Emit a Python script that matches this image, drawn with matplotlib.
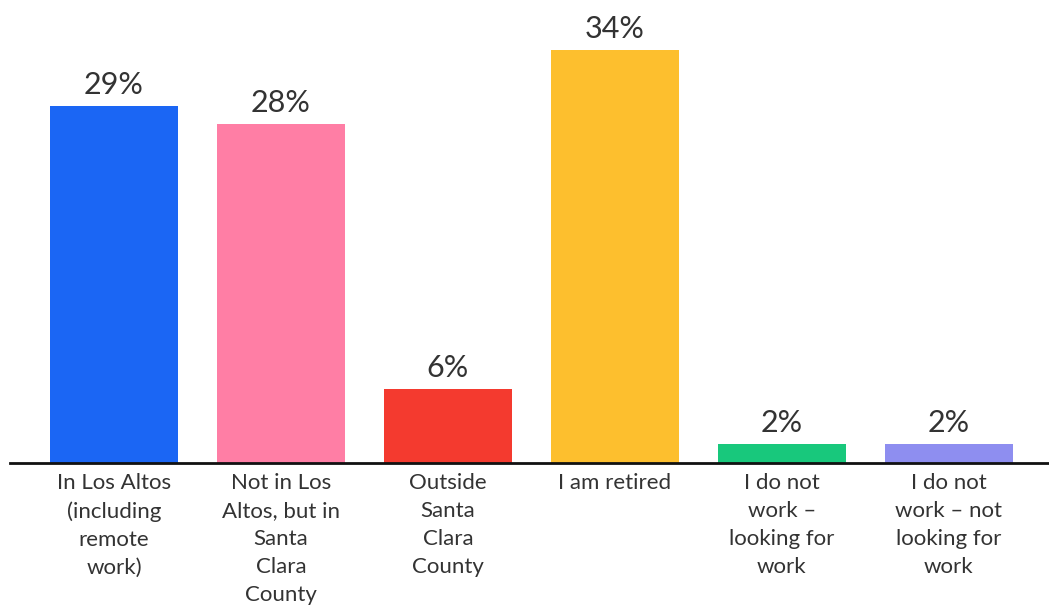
import matplotlib.pyplot as plt

categories = [
    "In Los Altos\n(including\nremote\nwork)",
    "Not in Los\nAltos, but in\nSanta\nClara\nCounty",
    "Outside\nSanta\nClara\nCounty",
    "I am retired",
    "I do not\nwork \u2013\nlooking for\nwork",
    "I do not\nwork \u2013 not\nlooking for\nwork",
]
values = [29.4, 27.9, 6.1, 34.0, 1.6, 1.6]
labels = ["29%", "28%", "6%", "34%", "2%", "2%"]
colors = ["#1B66F4", "#FF7EA5", "#F43A2F", "#FDBF2E", "#18C87C", "#8E8EF0"]

fig = plt.figure(figsize=(10.49, 6.10), dpi=100)
ax = fig.add_axes([10 / 1049, 147 / 610, 1 - 10 / 1049, 463 / 610])

x = list(range(len(values)))
ax.bar(x, values, width=0.765, color=colors)

for xi, v, lab in zip(x, values, labels):
    ax.annotate(lab, (xi, v), xytext=(0, 5), textcoords="offset points",
                ha="center", va="bottom", fontsize=22, color="#333333",
                family="Lato")

for xi, cat in zip(x, categories):
    ax.text(xi, -0.8, cat, ha="center", va="top", fontsize=16,
            color="#333333", family="Lato", linespacing=1.5)

ax.set_xlim(-0.623, 5.6)
ax.set_ylim(0, 38.1)
ax.axhline(0, color="#111111", linewidth=2, clip_on=False)
ax.axis("off")

fig.savefig("out.png", dpi=100)
